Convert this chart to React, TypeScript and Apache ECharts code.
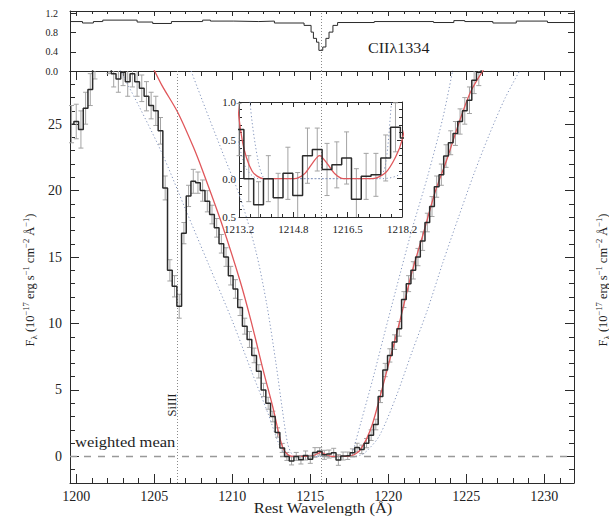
import React, { useEffect, useRef } from "react";
import * as echarts from "echarts";

// ---------------- data ----------------
// Main Lyα spectrum: bin centres (Å), flux (1e-17 erg/s/cm2/Å), 1σ errors
const waveGrid = [
  1199.7, 1200.0, 1200.3, 1200.6, 1200.9, 1201.2, 1201.5, 1201.8, 1202.1, 1202.4,
  1202.7, 1203.0, 1203.3, 1203.6, 1203.9, 1204.2, 1204.5, 1204.8, 1205.1, 1205.4,
  1205.7, 1206.0, 1206.3, 1206.6, 1206.9, 1207.2, 1207.5, 1207.8, 1208.1, 1208.4,
  1208.7, 1209.0, 1209.3, 1209.6, 1209.9, 1210.2, 1210.5, 1210.8, 1211.1, 1211.4,
  1211.7, 1212.0, 1212.3, 1212.6, 1212.9, 1213.2, 1213.5, 1213.8, 1214.1, 1214.4,
  1214.7, 1215.0, 1215.3, 1215.6, 1215.9, 1216.2, 1216.5, 1216.8, 1217.1, 1217.4,
  1217.7, 1218.0, 1218.3, 1218.6, 1218.9, 1219.2, 1219.5, 1219.8, 1220.1, 1220.4,
  1220.7, 1221.0, 1221.3, 1221.6, 1221.9, 1222.2, 1222.5, 1222.8, 1223.1, 1223.4,
  1223.7, 1224.0, 1224.3, 1224.6, 1224.9, 1225.2, 1225.5, 1225.8, 1226.1, 1226.4,
];
const fluxData = [
  25.0, 25.2, 24.6, 26.2, 27.6, 29.6, 30.4, 30.8, 29.9, 28.8,
  28.4, 28.9, 28.2, 28.8, 28.2, 27.7, 27.1, 26.4, 26.0, 24.5,
  20.2, 14.0, 12.8, 11.3, 16.8, 19.6, 20.7, 20.6, 20.0, 19.2,
  18.2, 17.2, 16.0, 15.0, 13.6, 12.6, 11.2, 9.8, 8.8, 7.6,
  6.4, 5.0, 4.0, 3.0, 1.8, 0.64, 0.0, -0.34, 0.0, -0.25,
  0.07, -0.22, 0.3, 0.38, 0.12, 0.18, 0.27, -0.27, 0.03, 0.05,
  0.27, 0.67, 0.53, 1.0, 1.6, 2.4, 4.5, 6.5, 7.6, 8.6,
  9.6, 11.8, 13.0, 14.0, 15.0, 16.2, 17.6, 18.8, 20.3, 21.2,
  22.6, 23.6, 24.3, 25.2, 26.0, 26.8, 28.3, 28.9, 30.2, 31.0,
];
const fluxErr = [
  1.4, 1.3, 1.4, 1.2, 1.2, 1.2, 1.2, 1.2, 1.1, 1.0,
  1.0, 1.0, 1.1, 1.0, 1.1, 1.0, 1.1, 1.0, 1.1, 1.0,
  0.9, 0.8, 0.8, 0.9, 0.8, 0.8, 0.9, 0.8, 0.8, 0.8,
  0.7, 0.7, 0.7, 0.7, 0.7, 0.7, 0.6, 0.6, 0.6, 0.55,
  0.5, 0.5, 0.45, 0.4, 0.35, 0.34, 0.3, 0.3, 0.3, 0.32,
  0.34, 0.3, 0.36, 0.28, 0.34, 0.3, 0.34, 0.4, 0.3, 0.28,
  0.3, 0.32, 0.32, 0.35, 0.4, 0.4, 0.45, 0.5, 0.5, 0.55,
  0.55, 0.6, 0.6, 0.65, 0.65, 0.7, 0.7, 0.75, 0.8, 0.8,
  0.85, 0.9, 0.9, 0.95, 1.0, 1.0, 1.0, 1.0, 1.0, 1.0,
];

// Top panel: CII λ1334 normalised profile (bin left edges, normalised flux)
const ciiWave = [
  1199.6, 1200.4, 1201.1, 1201.7, 1203.9, 1204.9, 1206.1, 1208.1, 1208.6, 1210.1,
  1211.7, 1212.7, 1214.6, 1215.05, 1215.2, 1215.4, 1215.55, 1215.8, 1216.0, 1216.2,
  1216.45, 1216.75, 1219.1, 1222.9, 1224.2, 1224.9, 1226.7, 1228.2, 1230.2, 1231.9,
];
const ciiFlux = [
  1.03, 1.0, 1.03, 1.06, 1.02, 0.99, 1.03, 1.06, 1.04, 1.03,
  1.04, 1.0, 0.95, 0.81, 0.68, 0.6, 0.43, 0.5, 0.68, 0.81,
  0.95, 1.01, 1.03, 1.01, 1.05, 1.03, 1.0, 1.04, 1.01, 1.01,
];

// Best-fit Voigt model (red)
const fitWave = [
  1204.9, 1205.5, 1206.5, 1207.5, 1208.1, 1209.3, 1210.5, 1211.2, 1212.0, 1212.6,
  1213.05, 1213.3, 1213.6, 1213.95, 1214.05, 1214.5, 1214.9, 1215.2, 1215.45, 1215.67,
  1215.9, 1216.15, 1216.4, 1216.5, 1217.2, 1217.3, 1217.7, 1218.0, 1218.2, 1218.6,
  1219.0, 1219.45, 1220.1, 1220.7, 1221.5, 1222.3, 1223.0, 1223.74, 1224.5, 1225.3,
  1226.5,
];
const fitFlux = [
  29.3, 27.9, 25.9, 23.3, 21.5, 17.6, 13.2, 10.2, 6.4, 3.7,
  1.4, 0.5, 0.1, 0, 0, 0, 0, 0.06, 0.2, 0.3,
  0.2, 0.06, 0, 0, 0, 0, 0.08, 0.28, 0.5, 1.3,
  2.5, 4.4, 7.3, 10.0, 13.8, 17.0, 19.9, 22.3, 25.0, 27.5,
  29.8,
];

// Lower column-density model (inner dotted)
const innerWave = [
  1207.2, 1208.5, 1209.5, 1210.5, 1211.5, 1212.2, 1212.8, 1213.2, 1213.54, 1213.8,
  1214.0, 1214.1, 1217.4, 1217.5, 1217.7, 1217.88, 1218.3, 1219.0, 1219.7, 1220.5,
  1221.5, 1222.5, 1223.5, 1224.2,
];
const innerFlux = [
  29.5, 25.5, 22.5, 19.5, 15.5, 11.5, 7.0, 3.6, 1.0, 0.2,
  0, 0, 0, 0, 0.2, 1.0, 2.8, 5.8, 9.0, 12.6,
  17.0, 21.0, 25.5, 29.5,
];

// Higher column-density model (outer dotted)
const outerWave = [
  1202.7, 1204.0, 1205.5, 1207.0, 1208.5, 1210.0, 1211.2, 1212.3, 1213.0, 1213.4,
  1213.8, 1213.9, 1217.5, 1217.6, 1218.2, 1218.7, 1219.45, 1220.5, 1221.5, 1222.5,
  1223.5, 1224.5, 1225.5, 1226.5, 1227.5, 1228.6,
];
const outerFlux = [
  29.3, 26.4, 22.8, 18.6, 14.4, 10.2, 6.5, 3.2, 0.9, 0.15,
  0, 0, 0, 0, 0.08, 0.5, 1.6, 4.5, 7.8, 11.0,
  14.6, 18.0, 21.3, 24.3, 27.0, 29.4,
];

// Inset tick labels
const insetXLabels = ["1213.2", "1214.8", "1216.5", "1218.2"];
const insetYLabels = ["0.5", "0.0", "0.5", "1.0"];

// Reference lines
const LYA = 1215.67;
const SIIII = 1206.5;

// ---------------- ranges / styling ----------------
const X_MIN = 1199.6;
const X_MAX = 1231.9;
const F_MIN = -2;
const F_MAX = 29;
const CII_MIN = 0;
const CII_MAX = 1.25;
const INSET_X0 = 1213.2;
const INSET_X1 = 1218.2;
const INSET_STEP = 5 / 3;
const INSET_Y0 = -0.5;
const INSET_Y1 = 1.0;

const SERIF = "'Liberation Serif', 'DejaVu Serif', 'Times New Roman', serif";
const INK = "#2b2b2b";
const ERR_COLOR = "#a3a3a3";
const MODEL_COLOR = "#8193bb";
const FIT_COLOR = "#e0575b";
const GUIDE_COLOR = "#8a8a8a";

const fmtMult = (step: number, dec: number) => (v: number) => {
  const k = v / step;
  return Math.abs(k - Math.round(k)) < 1e-6 ? v.toFixed(dec) : "";
};
const fmtFromList = (list: string[], start: number, step: number) => (v: number) => {
  const k = (v - start) / step;
  const r = Math.round(k);
  return Math.abs(k - r) < 1e-6 && list[r] !== undefined ? list[r] : "";
};

const toInset = (w: number) => (w - INSET_X0) / INSET_STEP;
const pairs = (xs: number[], ys: number[]) => xs.map((x, i) => [x, ys[i]]);
const insetPairs = (xs: number[], ys: number[]) => xs.map((x, i) => [toInset(x), ys[i]]);

const makeErrRender = (cap: number) => (params: any, api: any) => {
  const x = api.value(0);
  const y = api.value(1);
  const e = api.value(2);
  const p1 = api.coord([x, y + e]);
  const p2 = api.coord([x, y - e]);
  const cs = params.coordSys;
  const top = cs.y;
  const bottom = cs.y + cs.height;
  const left = cs.x;
  const right = cs.x + cs.width;
  const px = p1[0];
  if (px < left - 0.5 || px > right + 0.5) return null;
  const yTop = Math.max(p1[1], top);
  const yBot = Math.min(p2[1], bottom);
  if (yTop >= yBot) return null;
  const style = { stroke: ERR_COLOR, lineWidth: 1 };
  const children: any[] = [
    { type: "line", shape: { x1: px, y1: yTop, x2: px, y2: yBot }, style },
  ];
  if (p1[1] >= top) children.push({ type: "line", shape: { x1: px - cap, y1: p1[1], x2: px + cap, y2: p1[1] }, style });
  if (p2[1] <= bottom) children.push({ type: "line", shape: { x1: px - cap, y1: p2[1], x2: px + cap, y2: p2[1] }, style });
  return { type: "group", children };
};

const axisLineStyle = { show: true, onZero: false, lineStyle: { color: INK, width: 1 } };
const noSplit = { show: false };

function buildOption(): any {
  const mainErrData = waveGrid.map((w, i) => [w, fluxData[i], fluxErr[i]]);
  const insetErrData = waveGrid
    .map((w, i) => [w, fluxData[i], fluxErr[i]])
    .filter((d) => d[0] >= INSET_X0 - 1e-6 && d[0] <= INSET_X1 + 1e-6)
    .map((d) => [toInset(d[0]), d[1], d[2]]);

  const lineBase = { type: "line", symbol: "none", showSymbol: false, silent: true, clip: true, animation: false };

  const yTitleText =
    "{n|F}{sub|λ}{n| (10}{sup|−17}{n| erg s}{sup|−1}{n| cm}{sup|−2}{n| Å}{sup|−1}{n|)}";
  const yTitleRich = {
    n: { fontSize: 12.5, fontFamily: SERIF, fill: "#222", color: "#222", lineHeight: 17, verticalAlign: "middle" },
    sup: { fontSize: 8.5, fontFamily: SERIF, fill: "#222", color: "#222", lineHeight: 9, verticalAlign: "top" },
    sub: { fontSize: 9, fontFamily: SERIF, fill: "#222", color: "#222", lineHeight: 9, verticalAlign: "bottom" },
  };

  const plainText = (text: string, x: number, y: number, size: number, align: string, extra: any = {}) => ({
    type: "text",
    x,
    y,
    silent: true,
    ...extra,
    style: {
      text,
      fontSize: size,
      fontFamily: SERIF,
      fill: "#1e1e1e",
      align,
      textAlign: align,
      verticalAlign: "middle",
      textVerticalAlign: "middle",
    },
  });

  const modelLine = { color: MODEL_COLOR, width: 1, type: [1.2, 2.4] };

  return {
    animation: false,
    backgroundColor: "#ffffff",
    grid: [
      { left: 70, right: 35, top: 11, height: 60, outerBoundsMode: "none", containLabel: false },
      { left: 70, right: 35, top: 71, height: 412, outerBoundsMode: "none", containLabel: false },
      { left: 239, top: 102, width: 163, height: 115, outerBoundsMode: "none", containLabel: false },
    ],
    xAxis: [
      // 0: top panel, top edge
      {
        gridIndex: 0, type: "value", position: "top", min: X_MIN, max: X_MAX, minInterval: 5, maxInterval: 5,
        axisLine: axisLineStyle,
        axisTick: { show: true, inside: true, length: 5, lineStyle: { color: INK } },
        minorTick: { show: true, splitNumber: 5, length: 3, lineStyle: { color: INK } },
        axisLabel: { show: false }, splitLine: noSplit,
      },
      // 1: top panel, bottom edge
      {
        gridIndex: 0, type: "value", position: "bottom", min: X_MIN, max: X_MAX, minInterval: 5, maxInterval: 5,
        axisLine: axisLineStyle, axisTick: { show: false }, axisLabel: { show: false }, splitLine: noSplit,
      },
      // 2: main panel, bottom (labelled)
      {
        gridIndex: 1, type: "value", position: "bottom", min: X_MIN, max: X_MAX, minInterval: 5, maxInterval: 5,
        axisLine: axisLineStyle,
        axisTick: { show: true, inside: true, length: 9, lineStyle: { color: INK } },
        minorTick: { show: true, splitNumber: 5, length: 5, lineStyle: { color: INK } },
        axisLabel: { show: true, margin: 6, fontSize: 14, fontFamily: SERIF, color: "#222", formatter: fmtMult(5, 0) },
        splitLine: noSplit,
      },
      // 3: main panel, top
      {
        gridIndex: 1, type: "value", position: "top", min: X_MIN, max: X_MAX, minInterval: 5, maxInterval: 5,
        axisLine: axisLineStyle,
        axisTick: { show: true, inside: true, length: 9, lineStyle: { color: INK } },
        minorTick: { show: true, splitNumber: 5, length: 5, lineStyle: { color: INK } },
        axisLabel: { show: false }, splitLine: noSplit,
      },
      // 4: inset bottom
      {
        gridIndex: 2, type: "value", position: "bottom", min: 0, max: 3, interval: 1,
        axisLine: axisLineStyle,
        axisTick: { show: true, inside: true, length: 5, lineStyle: { color: INK } },
        minorTick: { show: true, splitNumber: 5, length: 3, lineStyle: { color: INK } },
        axisLabel: { show: true, margin: 6, fontSize: 11, fontFamily: SERIF, color: "#222", formatter: fmtFromList(insetXLabels, 0, 1) },
        splitLine: noSplit,
      },
      // 5: inset top
      {
        gridIndex: 2, type: "value", position: "top", min: 0, max: 3, interval: 1,
        axisLine: axisLineStyle,
        axisTick: { show: true, inside: true, length: 5, lineStyle: { color: INK } },
        minorTick: { show: true, splitNumber: 5, length: 3, lineStyle: { color: INK } },
        axisLabel: { show: false }, splitLine: noSplit,
      },
    ],
    yAxis: [
      // 0: top panel left
      {
        gridIndex: 0, type: "value", position: "left", min: CII_MIN, max: CII_MAX, interval: 0.4,
        axisLine: axisLineStyle,
        axisTick: { show: true, inside: true, length: 6, lineStyle: { color: INK } },
        axisLabel: { show: true, margin: 12, fontSize: 10, fontFamily: SERIF, color: "#222", formatter: fmtMult(0.4, 1) },
        splitLine: noSplit,
      },
      // 1: top panel right
      {
        gridIndex: 0, type: "value", position: "right", min: CII_MIN, max: CII_MAX, interval: 0.4,
        axisLine: axisLineStyle,
        axisTick: { show: true, inside: true, length: 6, lineStyle: { color: INK } },
        axisLabel: { show: false }, splitLine: noSplit,
      },
      // 2: main left
      {
        gridIndex: 1, type: "value", position: "left", min: F_MIN, max: F_MAX, minInterval: 5, maxInterval: 5,
        axisLine: axisLineStyle,
        axisTick: { show: true, inside: true, length: 9, lineStyle: { color: INK } },
        minorTick: { show: true, splitNumber: 5, length: 5, lineStyle: { color: INK } },
        axisLabel: { show: true, margin: 8, fontSize: 14, fontFamily: SERIF, color: "#222", formatter: fmtMult(5, 0) },
        splitLine: noSplit,
      },
      // 3: main right
      {
        gridIndex: 1, type: "value", position: "right", min: F_MIN, max: F_MAX, minInterval: 5, maxInterval: 5,
        axisLine: axisLineStyle,
        axisTick: { show: true, inside: true, length: 9, lineStyle: { color: INK } },
        minorTick: { show: true, splitNumber: 5, length: 5, lineStyle: { color: INK } },
        axisLabel: { show: false }, splitLine: noSplit,
      },
      // 4: inset left
      {
        gridIndex: 2, type: "value", position: "left", min: INSET_Y0, max: INSET_Y1, interval: 0.5,
        axisLine: axisLineStyle,
        axisTick: { show: true, inside: true, length: 5, lineStyle: { color: INK } },
        minorTick: { show: true, splitNumber: 5, length: 3, lineStyle: { color: INK } },
        axisLabel: { show: true, margin: 3, fontSize: 11, fontFamily: SERIF, color: "#222", formatter: fmtFromList(insetYLabels, INSET_Y0, 0.5) },
        splitLine: noSplit,
      },
      // 5: inset right
      {
        gridIndex: 2, type: "value", position: "right", min: INSET_Y0, max: INSET_Y1, interval: 0.5,
        axisLine: axisLineStyle,
        axisTick: { show: true, inside: true, length: 5, lineStyle: { color: INK } },
        minorTick: { show: true, splitNumber: 5, length: 3, lineStyle: { color: INK } },
        axisLabel: { show: false }, splitLine: noSplit,
      },
    ],
    series: [
      // ---- top panel ----
      {
        ...lineBase, name: "CII 1334", xAxisIndex: 0, yAxisIndex: 0,
        data: pairs(ciiWave, ciiFlux), step: "end",
        lineStyle: { color: INK, width: 1 },
        markLine: {
          silent: true, symbol: ["none", "none"], label: { show: false }, animation: false,
          data: [{ xAxis: LYA, lineStyle: { type: [1, 2], color: GUIDE_COLOR, width: 1 } }],
        },
      },
      // ---- main panel ----
      {
        ...lineBase, name: "outer model", xAxisIndex: 2, yAxisIndex: 2,
        data: pairs(outerWave, outerFlux), smooth: 0.3, lineStyle: modelLine,
      },
      {
        ...lineBase, name: "inner model", xAxisIndex: 2, yAxisIndex: 2,
        data: pairs(innerWave, innerFlux), smooth: 0.3, lineStyle: modelLine,
      },
      {
        type: "custom", name: "errors", xAxisIndex: 2, yAxisIndex: 2, silent: true, animation: false,
        data: mainErrData, encode: { x: 0, y: 1 }, renderItem: makeErrRender(2.5), z: 3,
      },
      {
        ...lineBase, name: "fit", xAxisIndex: 2, yAxisIndex: 2,
        data: pairs(fitWave, fitFlux), smooth: 0.3, z: 4,
        lineStyle: { color: FIT_COLOR, width: 1.3 },
      },
      {
        ...lineBase, name: "spectrum", xAxisIndex: 2, yAxisIndex: 2,
        data: pairs(waveGrid, fluxData), step: "middle", z: 5,
        lineStyle: { color: INK, width: 1.5 },
        markLine: {
          silent: true, symbol: ["none", "none"], label: { show: false }, animation: false,
          data: [
            { yAxis: 0, lineStyle: { type: [7, 7], color: "#999999", width: 1.4 } },
            { xAxis: SIIII, lineStyle: { type: [1, 2], color: GUIDE_COLOR, width: 1 } },
            { xAxis: LYA, lineStyle: { type: [1, 2], color: GUIDE_COLOR, width: 1 } },
          ],
        },
      },
      // ---- inset ----
      {
        ...lineBase, name: "outer model inset", xAxisIndex: 4, yAxisIndex: 4,
        data: insetPairs(outerWave, outerFlux), smooth: 0.3, lineStyle: modelLine,
      },
      {
        ...lineBase, name: "inner model inset", xAxisIndex: 4, yAxisIndex: 4,
        data: insetPairs(innerWave, innerFlux), smooth: 0.3, lineStyle: modelLine,
      },
      {
        type: "custom", name: "errors inset", xAxisIndex: 4, yAxisIndex: 4, silent: true, animation: false,
        data: insetErrData, encode: { x: 0, y: 1 }, renderItem: makeErrRender(2.5), z: 3,
      },
      {
        ...lineBase, name: "fit inset", xAxisIndex: 4, yAxisIndex: 4,
        data: insetPairs(fitWave, fitFlux), smooth: 0.3, z: 4,
        lineStyle: { color: FIT_COLOR, width: 1.3 },
      },
      {
        ...lineBase, name: "spectrum inset", xAxisIndex: 4, yAxisIndex: 4,
        data: insetPairs(waveGrid, fluxData), step: "middle", z: 5,
        lineStyle: { color: INK, width: 1.5 },
      },
    ],
    graphic: [
      {
        type: "text", x: 30, y: 280, rotation: Math.PI / 2, silent: true,
        style: { text: yTitleText, rich: yTitleRich, align: "center", textAlign: "center", verticalAlign: "middle", textVerticalAlign: "middle", fontFamily: SERIF, fill: "#222" },
      },
      {
        type: "text", x: 603, y: 280, rotation: Math.PI / 2, silent: true,
        style: { text: yTitleText, rich: yTitleRich, align: "center", textAlign: "center", verticalAlign: "middle", textVerticalAlign: "middle", fontFamily: SERIF, fill: "#222" },
      },
      plainText("Rest Wavelength (Å)", 323, 508, 14, "center", { scaleX: 1.18 }),
      plainText("weighted mean", 75, 442, 14, "left", { scaleX: 1.18 }),
      plainText("CIIλ1334", 368, 48, 14, "left", { scaleX: 1.15 }),
      plainText("SiIII", 172, 405, 12.5, "center", { rotation: Math.PI / 2 }),
    ],
  };
}

export default function App() {
  const ref = useRef<HTMLDivElement>(null);
  useEffect(() => {
    if (!ref.current) return;
    const chart = echarts.init(ref.current, null, { renderer: "svg" });
    chart.setOption(buildOption());
    return () => chart.dispose();
  }, []);
  return (
    <div
      ref={ref}
      style={{ position: "fixed", left: 0, top: 0, width: 609, height: 517, background: "#fff" }}
    />
  );
}
